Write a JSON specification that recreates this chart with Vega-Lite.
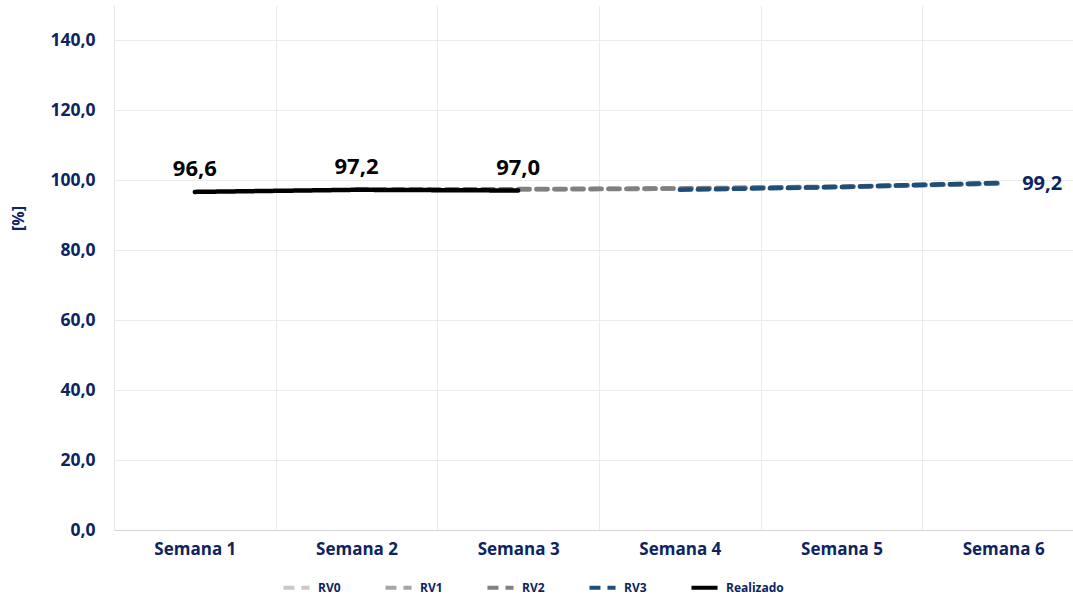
{
  "$schema": "https://vega.github.io/schema/vega-lite/v6.json",
  "autosize": {"type": "none"},
  "padding": {"left": 114, "top": 5, "right": 0, "bottom": 70},
  "width": 970,
  "height": 525,
  "background": "white",
  "config": {
    "locale": {"number": {"decimal": ",", "thousands": ".", "grouping": [3], "currency": ["", " €"]}},
    "font": "Open Sans",
    "view": {"stroke": null},
    "axis": {
      "labelFont": "Open Sans", "labelFontWeight": "bold", "labelColor": "#0c2461",
      "titleFont": "Open Sans", "titleFontWeight": "bold", "titleColor": "#0c2461",
      "gridColor": "#ebebeb", "ticks": false
    },
    "legend": {"labelFont": "Open Sans", "labelFontWeight": "bold", "labelColor": "#0c2461"}
  },
  "data": {
    "values": [
      {"semana": "Semana 2", "serie": "RV0", "valor": 97.2},
      {"semana": "Semana 3", "serie": "RV0", "valor": 97.3},
      {"semana": "Semana 4", "serie": "RV0", "valor": 97.5},
      {"semana": "Semana 5", "serie": "RV0", "valor": 98.0},
      {"semana": "Semana 6", "serie": "RV0", "valor": 99.0},
      {"semana": "Semana 2", "serie": "RV1", "valor": 97.2},
      {"semana": "Semana 3", "serie": "RV1", "valor": 97.3},
      {"semana": "Semana 4", "serie": "RV1", "valor": 97.5},
      {"semana": "Semana 5", "serie": "RV1", "valor": 98.0},
      {"semana": "Semana 6", "serie": "RV1", "valor": 99.0},
      {"semana": "Semana 2", "serie": "RV2", "valor": 97.2},
      {"semana": "Semana 3", "serie": "RV2", "valor": 97.4},
      {"semana": "Semana 4", "serie": "RV2", "valor": 97.6},
      {"semana": "Semana 5", "serie": "RV2", "valor": 98.1},
      {"semana": "Semana 6", "serie": "RV2", "valor": 99.1},
      {"semana": "Semana 4", "serie": "RV3", "valor": 97.2},
      {"semana": "Semana 5", "serie": "RV3", "valor": 98.0},
      {"semana": "Semana 6", "serie": "RV3", "valor": 99.2},
      {"semana": "Semana 1", "serie": "Realizado", "valor": 96.6},
      {"semana": "Semana 2", "serie": "Realizado", "valor": 97.2},
      {"semana": "Semana 3", "serie": "Realizado", "valor": 97.0}
    ]
  },
  "encoding": {
    "x": {
      "field": "semana", "type": "nominal",
      "sort": ["Semana 1", "Semana 2", "Semana 3", "Semana 4", "Semana 5", "Semana 6"],
      "scale": {"paddingInner": 0, "paddingOuter": 0},
      "axis": {
        "title": null, "labelAngle": 0, "tickBand": "extent", "grid": true,
        "domainColor": "#d4d4d4", "domainWidth": 1,
        "labelFontSize": 17, "labelPadding": 11
      }
    },
    "y": {
      "field": "valor", "type": "quantitative",
      "scale": {"domain": [0, 150], "nice": false},
      "axis": {
        "title": "[%]", "values": [0, 20, 40, 60, 80, 100, 120, 140], "format": ".1f",
        "grid": true, "domainColor": "#e6e6e6",
        "labelFontSize": 17.5, "labelPadding": 19, "titleFontSize": 16,
        "titleX": -88, "titleY": 213, "titleAngle": -90
      }
    }
  },
  "layer": [
    {
      "mark": {"type": "line", "strokeWidth": 4.5, "strokeCap": "round"},
      "encoding": {
        "color": {
          "field": "serie", "type": "nominal",
          "scale": {"domain": ["RV0", "RV1", "RV2", "RV3", "Realizado"], "range": ["#c9c9c9", "#a6a6a6", "#808080", "#1f4e79", "#000000"]},
          "legend": {
            "title": null, "orient": "none", "direction": "horizontal", "legendX": 167, "legendY": 567,
            "symbolType": "stroke", "symbolSize": 680, "symbolStrokeWidth": 4,
            "labelFontSize": 12, "labelOffset": 6, "columnPadding": 36
          }
        },
        "strokeDash": {
          "field": "serie", "type": "nominal",
          "scale": {"domain": ["RV0", "RV1", "RV2", "RV3", "Realizado"], "range": [[11, 7], [11, 7], [11, 7], [11, 7], [1, 0]]},
          "legend": null
        },
        "order": {"field": "serie"}
      }
    },
    {
      "transform": [{"filter": "datum.serie === 'Realizado'"}],
      "mark": {"type": "text", "dy": -23, "font": "Open Sans", "fontSize": 22, "fontWeight": "bold", "color": "#000000"},
      "encoding": {"text": {"field": "valor", "type": "quantitative", "format": ".1f"}}
    },
    {
      "transform": [{"filter": "datum.serie === 'RV3' && datum.semana === 'Semana 6'"}],
      "mark": {"type": "text", "dx": 19, "dy": 1, "align": "left", "font": "Open Sans", "fontSize": 20, "fontWeight": "bold", "color": "#0c2461"},
      "encoding": {"text": {"field": "valor", "type": "quantitative", "format": ".1f"}}
    }
  ]
}
